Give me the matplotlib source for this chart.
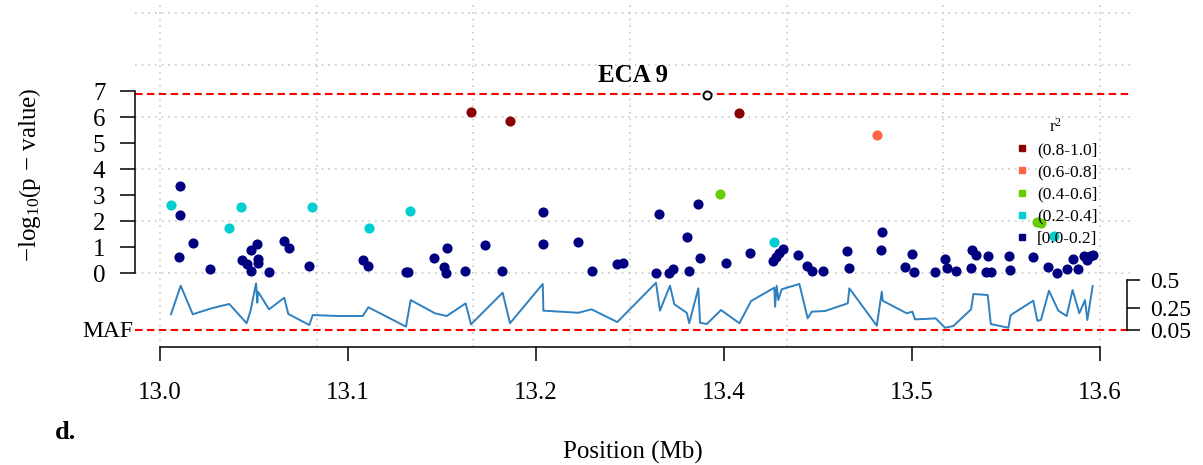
import numpy as np
import matplotlib.pyplot as plt
from matplotlib.lines import Line2D

plt.rcParams['font.family'] = 'Liberation Serif'
plt.rcParams['mathtext.fontset'] = 'custom'
plt.rcParams['mathtext.rm'] = 'Liberation Serif'
plt.rcParams['mathtext.it'] = 'Liberation Serif:italic'
plt.rcParams['mathtext.bf'] = 'Liberation Serif:bold'

# ---------- data (position in Mb, -log10 p) ----------
r2_00_pos = [13.0128, 13.0130, 13.0123, 13.0209, 13.0321, 13.0525, 13.0553, 13.0579,
             13.0579, 13.0619, 13.0627, 13.0624, 13.0694, 13.0791, 13.0821, 13.0953,
             13.1294, 13.1330, 13.1570, 13.1585, 13.1751, 13.1830, 13.1815, 13.1826,
             13.1949, 13.2076, 13.2183, 13.2443, 13.2447, 13.2670, 13.2755, 13.2915,
             13.2957, 13.3166, 13.3185, 13.3251, 13.3276, 13.3375, 13.3362, 13.3434,
             13.3447, 13.3613, 13.3766, 13.3911, 13.3932, 13.3953, 13.3975, 13.4070,
             13.4132, 13.4164, 13.4234, 13.4387, 13.4400, 13.4606, 13.4602, 13.4755,
             13.4802, 13.4811, 13.4947, 13.5011, 13.5021, 13.5079, 13.5176, 13.5183,
             13.5207, 13.5283, 13.5272, 13.5302, 13.5419, 13.5423, 13.5574, 13.5670,
             13.5727, 13.5787, 13.5825, 13.5861, 13.5898, 13.5919, 13.5936, 13.5957]
r2_00_logp = [3.35, 2.23, 0.63, 1.14, 0.15, 0.50, 0.35, 0.88,
              0.09, 1.10, 0.53, 0.37, 0.05, 1.24, 0.95, 0.28,
              0.50, 0.28, 0.05, 0.05, 0.56, 0.97, 0.24, 0.01,
              0.08, 1.08, 0.08, 2.35, 1.10, 1.20, 0.08, 0.33,
              0.38, 0.01, 2.28, 0.01, 0.14, 0.08, 1.40, 2.64,
              0.59, 0.37, 0.76, 0.46, 0.62, 0.76, 0.91, 0.68,
              0.28, 0.09, 0.09, 0.86, 0.20, 1.57, 0.88, 0.24,
              0.73, 0.03, 0.03, 0.54, 0.18, 0.08, 0.20, 0.88,
              0.69, 0.67, 0.03, 0.05, 0.65, 0.12, 0.60, 0.22,
              0.00, 0.14, 0.53, 0.14, 0.65, 0.50, 0.65, 0.69]

r2_02_pos = [13.0070, 13.0440, 13.0517, 13.0968, 13.1334, 13.1596, 13.3921, 13.5706]
r2_02_logp = [2.62, 1.74, 2.54, 2.54, 1.74, 2.38, 1.20, 1.43]

r2_04_pos = [13.3576, 13.5596, 13.5621]
r2_04_logp = [3.03, 1.97, 1.93]

r2_06_pos = [13.4575]
r2_06_logp = [5.31]

r2_08_pos = [13.1983, 13.2232, 13.3698]
r2_08_logp = [6.18, 5.83, 6.14]

lead_pos = [13.3490]
lead_logp = [6.85]

threshold = 6.87
maf_cut = 0.05

# minor allele frequency along the region
maf_pos = [13.0070, 13.0132, 13.0209, 13.0330, 13.0442, 13.0553, 13.0579, 13.0613,
           13.0621, 13.0626, 13.0696, 13.0793, 13.0819, 13.0953, 13.0975, 13.1138,
           13.1294, 13.1330, 13.1570, 13.1600, 13.1755, 13.1830, 13.1951, 13.1985,
           13.2187, 13.2234, 13.2443, 13.2447, 13.2670, 13.2755, 13.2919, 13.3166,
           13.3191, 13.3255, 13.3283, 13.3362, 13.3378, 13.3436, 13.3447, 13.3490,
           13.3581, 13.3698, 13.3773, 13.3921, 13.3926, 13.3936, 13.3947, 13.3968,
           13.4081, 13.4134, 13.4160, 13.4245, 13.4390, 13.4400, 13.4575, 13.4607,
           13.4613, 13.4766, 13.4802, 13.4819, 13.4883, 13.4951, 13.5011, 13.5064,
           13.5177, 13.5192, 13.5283, 13.5303, 13.5415, 13.5430, 13.5574, 13.5600,
           13.5623, 13.5674, 13.5734, 13.5787, 13.5825, 13.5868, 13.5904, 13.5919,
           13.5953]
maf_val = [0.189, 0.450, 0.189, 0.244, 0.283, 0.107, 0.228, 0.472,
           0.295, 0.395, 0.234, 0.340, 0.192, 0.091, 0.182, 0.173,
           0.173, 0.253, 0.076, 0.319, 0.198, 0.173, 0.289, 0.097,
           0.386, 0.107, 0.466, 0.222, 0.203, 0.234, 0.118, 0.477,
           0.222, 0.450, 0.280, 0.203, 0.107, 0.426, 0.112, 0.100,
           0.228, 0.107, 0.310, 0.432, 0.258, 0.450, 0.319, 0.417,
           0.466, 0.152, 0.213, 0.219, 0.289, 0.426, 0.085, 0.395,
           0.313, 0.198, 0.213, 0.143, 0.146, 0.152, 0.066, 0.082,
           0.234, 0.374, 0.365, 0.100, 0.066, 0.182, 0.313, 0.130,
           0.137, 0.404, 0.222, 0.173, 0.411, 0.198, 0.319, 0.137,
           0.447]

x_ticks = np.linspace(13.0, 13.6, 6)
x_labels = ['%.1f' % round(t, 1) for t in x_ticks]
x_grid = [13.0, 13.1, 13.2, 13.3, 13.4, 13.5, 13.6]
y_grid = [0, 2, 4, 6, 8, 10]

legend_labels = ['(0.8-1.0]', '(0.6-0.8]', '(0.4-0.6]', '(0.2-0.4]', '[0.0-0.2]']
legend_colors = ['#8B0000', '#FF6347', '#66CD00', '#00CED1', '#000080']

# ---------- figure ----------
W, H = 1203, 465
fig = plt.figure(figsize=(W / 100, H / 100), dpi=100)
ax = fig.add_axes([135 / W, 1 - 347 / H, 995 / W, 342 / H])
ax.set_xlim(12.98404, 13.61914)
ax.set_ylim(-2.846, 10.308)

grid_kw = dict(color='#C8C8C8', lw=1.2, ls=(0, (1, 3)), zorder=0)
for g in x_grid:
    ax.axvline(g, **grid_kw)
for g in y_grid:
    ax.axhline(g, **grid_kw)

red_kw = dict(color='red', lw=1.5, ls=(0, (3.6, 2.1)), zorder=1)
ax.axhline(threshold, **red_kw)

pt = dict(marker='o', ls='', ms=7.3, mew=0, zorder=3)
ax.plot(r2_00_pos, r2_00_logp, color=legend_colors[4], **pt)
ax.plot(r2_02_pos, r2_02_logp, color=legend_colors[3], **pt)
ax.plot(r2_04_pos, r2_04_logp, color=legend_colors[2], **pt)
ax.plot(r2_06_pos, r2_06_logp, color=legend_colors[1], **pt)
ax.plot(r2_08_pos, r2_08_logp, color=legend_colors[0], **pt)
ax.plot(lead_pos, lead_logp, marker='o', ls='', ms=5.8, mfc='white', mec='black',
        mew=1.4, zorder=4)

# title inside the plot region
ax.text(0.5, 7.35, 'ECA 9', transform=ax.get_yaxis_transform(), ha='center',
        va='baseline', fontsize=18, fontweight='bold')

for s in ['top', 'right']:
    ax.spines[s].set_visible(False)
ax.spines['left'].set_bounds(0, 7)
ax.spines['bottom'].set_bounds(13.0, 13.6)
for s in ['left', 'bottom']:
    ax.spines[s].set_linewidth(1.1)
ax.set_yticks(range(8))
ax.set_xticks(x_ticks)
ax.set_xticklabels(x_labels)
ax.tick_params(axis='y', length=10.8, width=1.1, pad=10.5, labelsize=18)
ax.tick_params(axis='x', length=10, width=1.1, pad=15.5, labelsize=18)

handles = [Line2D([], [], marker='s', ls='', color=c, ms=5) for c in legend_colors]
ax.legend(handles, legend_labels, title='r$^2$', loc='upper left',
          bbox_to_anchor=(1013 / W, 1 - 118 / H), bbox_transform=fig.transFigure,
          frameon=False, fontsize=12.5, title_fontsize=12.5, handlelength=1.0,
          handletextpad=0.38, labelspacing=0.35, borderpad=0, borderaxespad=0)

# MAF track on a twin axis
ax2 = ax.twinx()
ax2.set_ylim(-0.1098, 3.0135)
ax2.plot(maf_pos, maf_val, color='#2F80BF', lw=1.4, zorder=2)
ax2.axhline(maf_cut, **red_kw)
for s in ['top', 'left', 'bottom']:
    ax2.spines[s].set_visible(False)
ax2.spines['right'].set_position(('axes', 0.9967))
ax2.spines['right'].set_bounds(0.05, 0.5)
ax2.spines['right'].set_linewidth(1.1)
ax2.set_yticks([0.05, 0.25, 0.5])
ax2.set_yticklabels(['0.05', '0.25', '0.5'])
ax2.tick_params(axis='y', length=9.5, width=1.1, pad=7.4, labelsize=17)

fig.text(133 / W, 1 - 337 / H, 'MAF', ha='right', va='baseline', fontsize=17)
fig.text(30 / W, 1 - 175 / H,
         r'$-\mathrm{log}_{10}\left(\mathrm{p}\,-\,\mathrm{value}\right)$',
         rotation=90, ha='center', va='center', fontsize=18)
fig.text(632.5 / W, 1 - 452 / H, 'Position (Mb)', ha='center', va='center', fontsize=18)
fig.text(55 / W, 1 - 439 / H, 'd.', ha='left', va='baseline', fontsize=19, fontweight='bold')

fig.savefig('out.png', dpi=100)
